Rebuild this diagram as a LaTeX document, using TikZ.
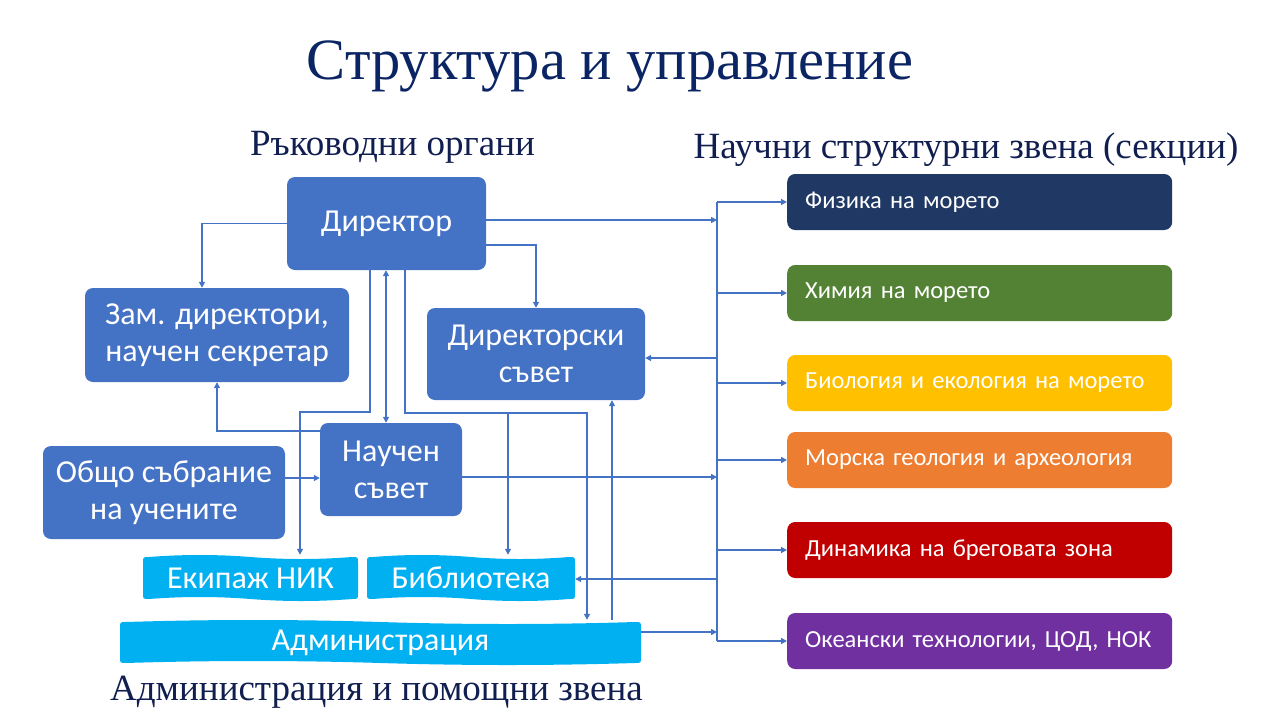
\documentclass[tikz,border=0pt]{standalone}
\usepackage{fontspec}
\setmainfont{Liberation Serif}
\newfontfamily\cfont{Carlito}
\usetikzlibrary{arrows.meta}
\definecolor{mblue}{HTML}{4472C4}
\definecolor{lblue}{HTML}{00B0F0}
\definecolor{ttl}{HTML}{0B2463}
\definecolor{hdr}{HTML}{111E50}
\definecolor{sA}{HTML}{203864}
\definecolor{sB}{HTML}{548235}
\definecolor{sC}{HTML}{FFC000}
\definecolor{sD}{HTML}{ED7D31}
\definecolor{sE}{HTML}{C00000}
\definecolor{sF}{HTML}{7030A0}
\newcommand{\tapeshape}[4]{%
  \pgfmathsetmacro\tmx{(#1+#3)/2}%
  \pgfmathsetmacro\tda{(\tmx-#1-6)/3}%
  \pgfmathsetmacro\tdb{(#3-6-\tmx)/3}%
  \fill[lblue] (#1,#2+8) .. controls (#1,#2+2) .. (#1+6,#2+2)
    .. controls (#1+6+\tda,#2-0.67) and (\tmx-\tda,#2-0.67) .. (\tmx,#2+2)
    .. controls (\tmx+\tdb,#2+4.67) and (#3-6-\tdb,#2+4.67) .. (#3-6,#2+2)
    .. controls (#3,#2+2) .. (#3,#2+8)
    -- (#3,#4-8) .. controls (#3,#4-2) .. (#3-6,#4-2)
    .. controls (#3-6-\tdb,#4+0.67) and (\tmx+\tdb,#4+0.67) .. (\tmx,#4-2)
    .. controls (\tmx-\tda,#4-4.67) and (#1+6+\tda,#4-4.67) .. (#1+6,#4-2)
    .. controls (#1,#4-2) .. (#1,#4-8) -- cycle;}
\tikzset{
  bbox/.style={fill=mblue, rounded corners=8pt, text=white, font=\cfont\fontsize{32}{37}\selectfont, align=center, inner sep=0pt},
  tapetxt/.style={text=white, font=\cfont\fontsize{32}{37}\selectfont, inner sep=0pt},
  sec/.style={rounded corners=8pt, text=white, font=\cfont\fontsize{24.5}{29}\selectfont, minimum height=56pt, text width=349pt, inner xsep=18pt, inner ysep=0pt, align=left, anchor=west},
  hdrtxt/.style={text=hdr, font=\fontsize{37}{42}\selectfont, inner sep=0pt},
  conn/.style={draw=mblue, line width=1.8pt},
  arr/.style={conn, -{Triangle[length=6pt,width=6pt]}},
  arrb/.style={conn, {Triangle[length=6pt,width=6pt]}-{Triangle[length=6pt,width=6pt]}},
}
\begin{document}
\begin{tikzpicture}[x=1pt,y=-1pt]
\useasboundingbox (0,0) rectangle (1280,720);
% titles
\node[text=ttl, font=\fontsize{58.5}{62}\selectfont, inner sep=0pt] (title) at (610,66) {Структура и управление};
\node[hdrtxt] (h1) at (392.5,147) {Ръководни органи};
\node[hdrtxt] (h2) at (966,150) {Научни структурни звена (секции)};
\node[hdrtxt] (h3) at (376.5,692) {Администрация и помощни звена};
% blue boxes
\node[bbox, minimum width=199pt, minimum height=93pt] (dir) at (386.5,223.5) {Директор};
\node[bbox, minimum width=264pt, minimum height=94pt] (zam) at (217,335) {Зам. директори,\\научен секретар};
\node[bbox, minimum width=218pt, minimum height=92pt] (dsv) at (536,354) {Директорски\\съвет};
\node[bbox, minimum width=142pt, minimum height=93pt] (nsv) at (391,469.5) {Научен\\съвет};
\node[bbox, minimum width=242pt, minimum height=93pt] (obs) at (164,492.5) {Общо събрание\\на учените};
% light blue tapes
\tapeshape{143}{555}{358}{601}
\tapeshape{367}{555}{575}{601}
\tapeshape{120}{620}{641}{665}
\node[tapetxt, minimum width=215pt, minimum height=46pt] (ekip) at (250.5,578) {Екипаж НИК};
\node[tapetxt, minimum width=208pt, minimum height=46pt] (bib) at (471,578) {Библиотека};
\node[tapetxt, minimum width=521pt, minimum height=45pt] (adm) at (380.5,642.5) {Администрация};
% sections
\node[sec, fill=sA] (s1) at (787,202) {Физика на морето};
\node[sec, fill=sB] (s2) at (787,293) {Химия на морето};
\node[sec, fill=sC] (s3) at (787,383) {Биология и екология на морето};
\node[sec, fill=sD] (s4) at (787,460) {Морска геология и археология};
\node[sec, fill=sE] (s5) at (787,550) {Динамика на бреговата зона};
\node[sec, fill=sF] (s6) at (787,641) {Океански технологии, ЦОД, НОК};
% bus
\coordinate (bus) at (717,0);
\coordinate (br) at (508,413);
\draw[conn] (bus |- s1.west) -- (bus |- s6.west);
\foreach \i in {1,...,6} \draw[arr] (bus |- s\i.west) -- (s\i.west);
% connectors
\draw[arr] (dir.west) -| ([xshift=-15pt]zam.north);
\draw[arr] (dir.east |- 0,220) -- (bus |- 0,220);
\draw[arr] (dir.east |- 0,245) -| (dsv.north);
\draw[arr] (dir.south -| 370,0) -- (370,412) -| (ekip.north -| 300,0);
\draw[arrb] (dir.south -| 386,0) -- (nsv.north -| 386,0);
\draw[arr] (dir.south -| 405,0) |- (587,413) -- (adm.north -| 587,0);
\draw[arr] (br) -- (bib.north -| br);
\draw[arr] (adm.north -| 612,0) -- (dsv.south -| 612,0);
\draw[arr] (nsv.west |- 0,431) -| (zam.south);
\draw[arr] (obs.east |- 0,478) -- (nsv.west |- 0,478);
\draw[arr] (nsv.east |- 0,477) -- (bus |- 0,477);
\draw[arr] (bus |- 0,358) -- (dsv.east |- 0,358);
\draw[arr] (bus |- 0,579) -- (bib.east |- 0,579);
\draw[arr] (adm.east |- 0,632) -- (bus |- 0,632);
\end{tikzpicture}
\end{document}
